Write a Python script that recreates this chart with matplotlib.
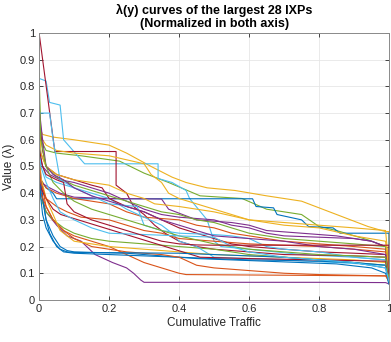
import matplotlib
matplotlib.use("Agg")
import matplotlib.pyplot as plt

plt.rcParams['font.family'] = ['Liberation Sans', 'DejaVu Sans']

# ---- data: 28 lambda(y) curves (x = cumulative traffic, y = value) ----
x01 = [0, 0.005, 0.01, 0.02, 0.04, 0.06, 0.08, 0.1, 0.15, 0.25, 0.35, 0.45, 0.55, 0.65, 0.75, 0.85, 0.95, 0.99, 1.0]
y01 = [0.6, 0.45, 0.38, 0.3, 0.24, 0.2, 0.185, 0.18, 0.178, 0.175, 0.165, 0.155, 0.15, 0.145, 0.14, 0.135, 0.12, 0.1, 0.06]
x02 = [0, 0.005, 0.02, 0.04, 0.07, 0.1, 0.15, 0.2, 0.25, 0.3, 0.35, 0.4, 0.42, 1.0]
y02 = [0.58, 0.45, 0.35, 0.3, 0.26, 0.24, 0.22, 0.2, 0.17, 0.14, 0.12, 0.1, 0.095, 0.09]
x03 = [0, 0.01, 0.04, 0.1, 0.15, 0.2, 0.25, 0.32, 0.38, 0.42, 0.48, 0.56, 0.65, 0.75, 0.81, 0.89, 0.94, 0.99, 1.0, 1.0]
y03 = [0.65, 0.62, 0.61, 0.6, 0.59, 0.58, 0.55, 0.5, 0.46, 0.44, 0.42, 0.41, 0.39, 0.37, 0.34, 0.3, 0.275, 0.256, 0.256, 0.13]
x04 = [0, 0.005, 0.02, 0.05, 0.08, 0.12, 0.16, 0.21, 0.25, 0.27, 0.29, 0.3, 0.8, 0.99, 1.0]
y04 = [0.5, 0.4, 0.33, 0.28, 0.24, 0.22, 0.17, 0.14, 0.12, 0.1, 0.075, 0.066, 0.066, 0.065, 0.06]
x05 = [0, 0.005, 0.02, 0.05, 0.12, 0.23, 0.3, 0.37, 0.46, 0.58, 0.65, 0.75, 0.8, 0.85, 0.94, 0.99, 1.0]
y05 = [0.85, 0.6, 0.56, 0.55, 0.54, 0.52, 0.475, 0.44, 0.39, 0.38, 0.34, 0.32, 0.275, 0.26, 0.225, 0.2, 0.1]
x06 = [0, 0.02, 0.03, 0.06, 0.07, 0.13, 0.34, 0.34, 0.38, 0.42, 0.43, 0.48, 0.5, 0.52, 0.6, 0.75, 0.9, 0.99, 1.0]
y06 = [0.83, 0.82, 0.74, 0.73, 0.6, 0.51, 0.51, 0.455, 0.44, 0.41, 0.38, 0.3, 0.22, 0.2, 0.19, 0.17, 0.16, 0.15, 0.08]
x07 = [0, 0.045, 0.22, 0.22, 0.25, 0.27, 0.3, 0.33, 0.36, 0.4, 0.45, 0.5, 0.6, 0.7, 0.9, 0.99, 1.0]
y07 = [1.0, 0.556, 0.556, 0.43, 0.4, 0.35, 0.32, 0.28, 0.25, 0.22, 0.2, 0.19, 0.18, 0.17, 0.165, 0.16, 0.08]
x08 = [0, 0.005, 0.02, 0.04, 0.05, 0.61, 0.62, 0.67, 0.68, 0.75, 0.77, 0.84, 0.86, 0.99, 1.0, 1.0]
y08 = [0.5, 0.45, 0.42, 0.4, 0.379, 0.379, 0.35, 0.345, 0.32, 0.3, 0.275, 0.27, 0.25, 0.25, 0.25, 0.15]
x09 = [0, 0.005, 0.02, 0.05, 0.1, 0.15, 0.2, 0.25, 0.3, 0.4, 0.45, 0.5, 0.55, 0.6, 0.65, 0.7, 0.8, 0.9, 0.99, 1.0]
y09 = [0.5, 0.45, 0.42, 0.4, 0.38, 0.37, 0.36, 0.33, 0.31, 0.3, 0.28, 0.27, 0.25, 0.24, 0.23, 0.22, 0.21, 0.2, 0.19, 0.1]
x10 = [0, 0.02, 0.05, 0.1, 0.2, 0.3, 0.32, 0.35, 0.37, 0.4, 0.45, 0.5, 0.6, 0.7, 0.8, 0.9, 0.99, 1.0]
y10 = [0.62, 0.58, 0.56, 0.55, 0.54, 0.51, 0.47, 0.44, 0.4, 0.38, 0.36, 0.34, 0.3, 0.29, 0.28, 0.27, 0.26, 0.12]
x11 = [0, 0.005, 0.03, 0.06, 0.1, 0.2, 0.35, 0.37, 0.45, 0.55, 0.6, 0.65, 0.75, 0.85, 0.95, 0.99, 1.0]
y11 = [0.5, 0.44, 0.42, 0.4, 0.385, 0.38, 0.378, 0.34, 0.3, 0.29, 0.28, 0.26, 0.25, 0.24, 0.22, 0.2, 0.1]
x12 = [0, 0.005, 0.02, 0.04, 0.07, 0.1, 0.15, 0.2, 0.3, 0.4, 0.5, 0.6, 0.7, 0.8, 0.9, 0.99, 1.0]
y12 = [0.45, 0.38, 0.33, 0.3, 0.27, 0.25, 0.23, 0.22, 0.21, 0.2, 0.19, 0.17, 0.16, 0.15, 0.14, 0.13, 0.07]
x13 = [0, 0.005, 0.02, 0.05, 0.1, 0.15, 0.2, 0.25, 0.3, 0.35, 0.38, 0.4, 0.45, 0.5, 0.6, 0.7, 0.85, 0.99, 1.0]
y13 = [0.6, 0.52, 0.46, 0.44, 0.42, 0.4, 0.38, 0.34, 0.31, 0.28, 0.25, 0.22, 0.2, 0.16, 0.155, 0.15, 0.14, 0.13, 0.07]
x14 = [0, 0.01, 0.02, 0.05, 0.1, 0.15, 0.18, 0.2, 0.25, 0.3, 0.35, 0.4, 0.45, 0.5, 0.55, 0.6, 0.7, 0.8, 0.9, 0.99, 1.0]
y14 = [0.7, 0.56, 0.5, 0.47, 0.45, 0.43, 0.42, 0.38, 0.35, 0.33, 0.3, 0.27, 0.25, 0.23, 0.21, 0.2, 0.19, 0.18, 0.175, 0.17, 0.09]
x15 = [0, 0.005, 0.01, 0.02, 0.03, 0.05, 0.07, 0.1, 0.2, 0.3, 0.4, 0.5, 0.6, 0.7, 0.8, 0.9, 0.99, 1.0]
y15 = [0.55, 0.45, 0.38, 0.3, 0.25, 0.2, 0.18, 0.175, 0.17, 0.165, 0.16, 0.155, 0.15, 0.148, 0.145, 0.14, 0.13, 0.07]
x16 = [0, 0.005, 0.02, 0.04, 0.07, 0.1, 0.15, 0.2, 0.25, 0.3, 0.35, 0.4, 0.45, 0.5, 0.6, 0.7, 0.8, 0.99, 1.0]
y16 = [0.5, 0.4, 0.35, 0.3, 0.26, 0.23, 0.2, 0.19, 0.18, 0.175, 0.17, 0.16, 0.13, 0.12, 0.11, 0.1, 0.095, 0.09, 0.07]
x17 = [0, 0.005, 0.02, 0.04, 0.06, 0.1, 0.15, 0.2, 0.3, 0.4, 0.5, 0.6, 0.7, 0.8, 0.9, 0.99, 1.0]
y17 = [0.58, 0.46, 0.38, 0.32, 0.26, 0.22, 0.21, 0.2, 0.19, 0.18, 0.17, 0.165, 0.16, 0.155, 0.15, 0.14, 0.08]
x18 = [0, 0.01, 0.03, 0.06, 0.1, 0.15, 0.2, 0.25, 0.3, 0.35, 0.4, 0.5, 0.55, 0.6, 0.65, 0.7, 0.8, 0.9, 0.95, 0.99, 1.0]
y18 = [0.55, 0.5, 0.47, 0.45, 0.44, 0.42, 0.4, 0.37, 0.34, 0.32, 0.31, 0.3, 0.28, 0.27, 0.25, 0.24, 0.235, 0.23, 0.22, 0.2, 0.12]
x19 = [0, 0.005, 0.02, 0.05, 0.1, 0.15, 0.2, 0.25, 0.3, 0.35, 0.4, 0.45, 0.5, 0.55, 0.6, 0.7, 0.8, 0.9, 0.99, 1.0]
y19 = [0.65, 0.55, 0.5, 0.46, 0.43, 0.41, 0.39, 0.37, 0.35, 0.33, 0.32, 0.3, 0.29, 0.27, 0.25, 0.23, 0.22, 0.21, 0.2, 0.13]
x20 = [0, 0.03, 0.04, 0.06, 0.1, 0.15, 0.2, 0.28, 0.3, 0.35, 0.4, 0.5, 0.55, 0.6, 0.65, 0.7, 0.8, 0.9, 0.99, 1.0]
y20 = [0.7, 0.7, 0.6, 0.45, 0.42, 0.39, 0.36, 0.35, 0.28, 0.26, 0.25, 0.245, 0.24, 0.23, 0.2, 0.19, 0.18, 0.16, 0.15, 0.07]
x21 = [0, 0.005, 0.02, 0.04, 0.062, 0.46, 0.6, 0.8, 0.99, 1.0]
y21 = [0.46, 0.42, 0.38, 0.34, 0.32, 0.16, 0.155, 0.15, 0.145, 0.08]
x22 = [0, 0.005, 0.01, 0.02, 0.04, 0.06, 0.08, 0.1, 0.2, 0.3, 0.4, 0.5, 0.6, 0.7, 0.8, 0.9, 0.99, 1.0]
y22 = [0.48, 0.38, 0.32, 0.27, 0.22, 0.19, 0.18, 0.178, 0.177, 0.176, 0.175, 0.17, 0.165, 0.16, 0.15, 0.14, 0.12, 0.06]
x23 = [0, 0.005, 0.02, 0.05, 0.08, 0.12, 0.2, 0.25, 0.3, 0.35, 0.4, 0.5, 0.6, 0.7, 0.8, 0.9, 0.99, 1.0]
y23 = [0.52, 0.44, 0.38, 0.35, 0.33, 0.31, 0.3, 0.28, 0.26, 0.25, 0.23, 0.22, 0.21, 0.205, 0.2, 0.19, 0.18, 0.1]
x24 = [0, 0.005, 0.02, 0.05, 0.1, 0.15, 0.2, 0.25, 0.3, 0.33, 0.4, 0.5, 0.6, 0.7, 0.8, 0.9, 0.99, 1.0]
y24 = [0.66, 0.55, 0.5, 0.47, 0.45, 0.44, 0.43, 0.4, 0.38, 0.36, 0.35, 0.33, 0.3, 0.28, 0.27, 0.24, 0.22, 0.11]
x25 = [0, 0.01, 0.02, 0.04, 0.07, 0.1, 0.15, 0.2, 0.25, 0.3, 0.35, 0.4, 0.45, 0.5, 0.6, 0.7, 0.8, 0.9, 0.99, 1.0]
y25 = [0.72, 0.6, 0.5, 0.47, 0.45, 0.42, 0.39, 0.37, 0.35, 0.33, 0.3, 0.28, 0.26, 0.24, 0.23, 0.22, 0.2, 0.19, 0.17, 0.09]
x26 = [0, 0.005, 0.02, 0.04, 0.07, 0.1, 0.15, 0.2, 0.25, 0.3, 0.35, 0.4, 0.5, 0.6, 0.7, 0.8, 0.9, 0.99, 1.0]
y26 = [0.78, 0.6, 0.5, 0.44, 0.4, 0.37, 0.34, 0.32, 0.3, 0.28, 0.26, 0.24, 0.21, 0.19, 0.18, 0.17, 0.165, 0.16, 0.08]
x27 = [0, 0.005, 0.02, 0.04, 0.06, 0.1, 0.15, 0.2, 0.3, 0.4, 0.5, 0.55, 0.6, 0.65, 0.7, 0.8, 0.9, 0.99, 1.0]
y27 = [0.6, 0.5, 0.44, 0.38, 0.33, 0.3, 0.27, 0.25, 0.245, 0.24, 0.235, 0.2, 0.18, 0.17, 0.16, 0.15, 0.14, 0.12, 0.07]
x28 = [0, 0.01, 0.02, 0.05, 0.07, 0.08, 0.1, 0.15, 0.2, 0.25, 0.3, 0.35, 0.4, 0.45, 0.5, 1.0, 1.0]
y28 = [0.57, 0.5, 0.47, 0.45, 0.44, 0.36, 0.33, 0.3, 0.28, 0.26, 0.24, 0.22, 0.21, 0.206, 0.205, 0.205, 0.1]

xs = [x01, x02, x03, x04, x05, x06, x07, x08, x09, x10, x11, x12, x13, x14,
      x15, x16, x17, x18, x19, x20, x21, x22, x23, x24, x25, x26, x27, x28]
ys = [y01, y02, y03, y04, y05, y06, y07, y08, y09, y10, y11, y12, y13, y14,
      y15, y16, y17, y18, y19, y20, y21, y22, y23, y24, y25, y26, y27, y28]

x_ticks = [0, 0.2, 0.4, 0.6, 0.8, 1]
x_ticklabels = ['0', '0.2', '0.4', '0.6', '0.8', '1']
y_ticks = [0, 0.1, 0.2, 0.3, 0.4, 0.5, 0.6, 0.7, 0.8, 0.9, 1]
y_ticklabels = ['0', '0.1', '0.2', '0.3', '0.4', '0.5', '0.6', '0.7', '0.8', '0.9', '1']

# ---- style ----
colors = ['#0072BD', '#D95319', '#EDB120', '#7E2F8E', '#77AC30', '#4DBEEE', '#A2142F']

fig = plt.figure(figsize=(3.91, 3.42), dpi=100)
ax = fig.add_axes([0.1, 0.123, 0.895, 0.7805])

for i, (x, y) in enumerate(zip(xs, ys)):
    ax.plot(x, y, color=colors[i % 7], lw=0.8)

ax.set_xlim(0, 1)
ax.set_ylim(0, 1)
ax.set_xticks(x_ticks)
ax.set_xticklabels(x_ticklabels)
ax.set_yticks(y_ticks)
ax.set_yticklabels(y_ticklabels)
ax.grid(True, color='#e6e6e6', lw=0.6)
ax.set_axisbelow(True)
ax.tick_params(direction='in', length=3, width=0.6, colors='#262626',
               labelsize=8, top=True, right=True, pad=3)
for s in ax.spines.values():
    s.set_color('#8a8a8a')
    s.set_linewidth(0.7)

ax.set_xlabel('Cumulative Traffic', fontsize=8.5, color='#262626', labelpad=2)
ax.set_ylabel('Value (λ)', fontsize=8.5, color='#262626', labelpad=3)
ax.set_title('λ(y) curves of the largest 28 IXPs\n(Normalized in both axis)',
             fontsize=9, fontweight='bold', color='black', pad=4, linespacing=1.15)

fig.savefig('out.png', dpi=100)
